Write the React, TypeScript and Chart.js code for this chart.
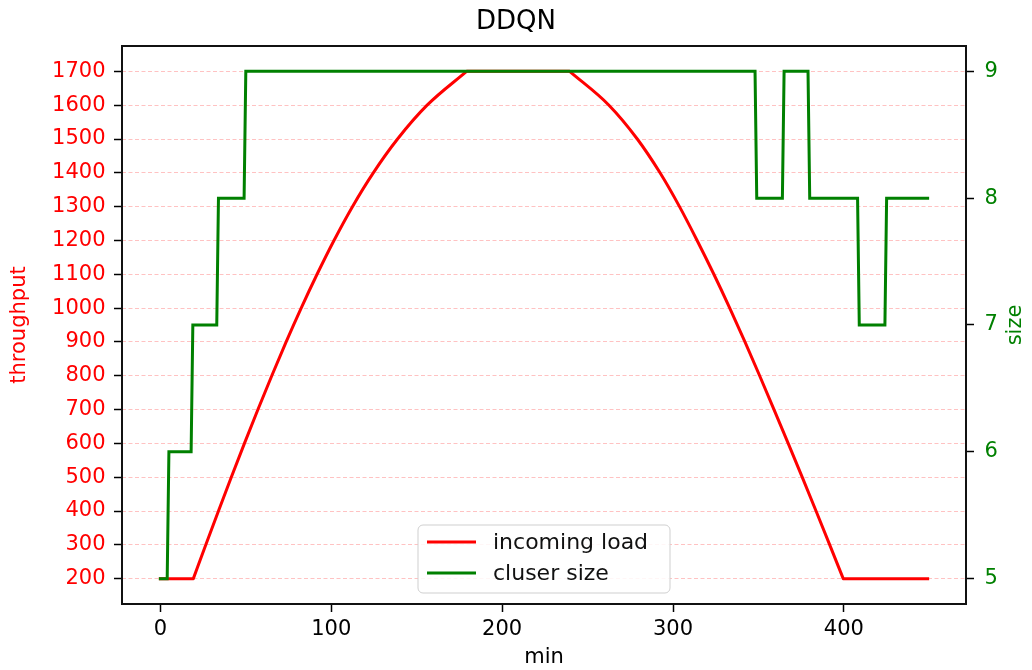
import React, { useEffect, useRef } from 'react';
import { Chart, registerables } from 'chart.js';

Chart.register(...registerables);

const FONT = '"DejaVu Sans", "Liberation Sans", sans-serif';

// incoming load (throughput)
const loadMinutes = [0, 19.3, 26.6, 34.0, 41.5, 49.2, 57.1, 65.2, 73.6, 82.4, 91.7, 101.6, 112.4, 124.6, 138.8, 156.1, 179.2,
  239.5, 262.5, 279.1, 292.4, 303.8, 314.1, 323.9, 333.2, 342.1, 350.7, 359.1, 367.4, 375.6, 383.7, 391.7, 399.6, 449];
const loadValues = [200, 200, 300, 400, 500, 600, 700, 800, 900, 1000, 1100, 1200, 1300, 1400, 1500, 1600, 1700,
  1700, 1600, 1500, 1400, 1300, 1200, 1100, 1000, 900, 800, 700, 600, 500, 400, 300, 200, 200];

// cluster size steps
const sizeMinutes = [0, 4, 5, 18, 19, 33, 34, 49, 50, 348, 349, 364, 365, 379, 380, 408, 409, 424, 425, 449];
const sizeValues = [5, 5, 6, 6, 7, 7, 8, 8, 9, 9, 8, 8, 9, 9, 8, 8, 7, 7, 8, 8];

const xTicks = [0, 100, 200, 300, 400];
const throughputTicks = [200, 300, 400, 500, 600, 700, 800, 900, 1000, 1100, 1200, 1300, 1400, 1500, 1600, 1700];
const sizeTicks = [5, 6, 7, 8, 9];

const seriesLabels = ['incoming load', 'cluser size'];
const seriesColors = ['#ff0000', '#008000'];

const X_MIN = -22.45;
const X_MAX = 471.45;
const Y_MIN = 125;
const Y_MAX = 1775;
const Y1_MIN = 4.8;
const Y1_MAX = 9.2;

// keep the corners where the smooth load curve meets its flat parts sharp
const cornerPlugin = {
  id: 'sharpCorners',
  beforeDatasetDraw(chart: any, args: any) {
    if (args.index !== 0) return;
    const line = args.meta.dataset;
    if (!line) return;
    line.updateControlPoints(chart.chartArea, 'x');
    const pts = line.points;
    for (let i = 1; i < pts.length - 1; i++) {
      const a = pts[i - 1];
      const p = pts[i];
      const b = pts[i + 1];
      const flatBefore = Math.abs(a.y - p.y) < 0.01;
      const flatAfter = Math.abs(b.y - p.y) < 0.01;
      if (flatBefore && !flatAfter) {
        p.cp1x = p.x - (p.x - a.x) / 3;
        p.cp1y = p.y;
        p.cp2x = p.x + (b.x - p.x) / 3;
        p.cp2y = p.y + (b.y - p.y) / 3;
      } else if (!flatBefore && flatAfter) {
        p.cp1x = p.x - (p.x - a.x) / 3;
        p.cp1y = p.y - (p.y - a.y) / 3;
        p.cp2x = p.x + (b.x - p.x) / 3;
        p.cp2y = p.y;
      }
    }
    line._path = undefined;
  },
};

const decorPlugin = {
  id: 'decor',
  afterDraw(chart: any) {
    const { ctx, chartArea: ca } = chart;
    ctx.save();
    // frame (all four spines)
    ctx.strokeStyle = '#111111';
    ctx.lineWidth = 2;
    ctx.setLineDash([]);
    ctx.strokeRect(ca.left, ca.top, ca.right - ca.left, ca.bottom - ca.top);

    // right axis label, reading bottom to top
    ctx.save();
    ctx.fillStyle = seriesColors[1];
    ctx.font = `21px ${FONT}`;
    ctx.textAlign = 'center';
    ctx.textBaseline = 'alphabetic';
    ctx.translate(ca.right + 55, (ca.top + ca.bottom) / 2);
    ctx.rotate(-Math.PI / 2);
    ctx.fillText('size', 0, 0);
    ctx.restore();

    // legend
    const w = 252;
    const h = 68;
    const bx = (ca.left + ca.right) / 2 - w / 2;
    const by = ca.bottom - 11 - h;
    ctx.beginPath();
    if ((ctx as any).roundRect) {
      (ctx as any).roundRect(bx, by, w, h, 5);
    } else {
      ctx.rect(bx, by, w, h);
    }
    ctx.fillStyle = 'rgba(255,255,255,0.85)';
    ctx.fill();
    ctx.strokeStyle = '#cfcfcf';
    ctx.lineWidth = 1;
    ctx.stroke();
    ctx.font = `22px ${FONT}`;
    ctx.textAlign = 'left';
    ctx.textBaseline = 'middle';
    seriesLabels.forEach((label, i) => {
      const y = by + 17 + i * 31;
      ctx.strokeStyle = seriesColors[i];
      ctx.lineWidth = 3;
      ctx.beginPath();
      ctx.moveTo(bx + 9, y);
      ctx.lineTo(bx + 58, y);
      ctx.stroke();
      ctx.fillStyle = '#111111';
      ctx.fillText(label, bx + 75, y + 1);
    });
    ctx.restore();
  },
};

export default function App() {
  const ref = useRef<HTMLCanvasElement>(null);

  useEffect(() => {
    document.body.style.margin = '0';
    const canvas = ref.current;
    if (!canvas) return;
    const tickFont = { family: FONT, size: 21 };
    const chart = new Chart(canvas, {
      type: 'line',
      data: {
        datasets: [
          {
            label: seriesLabels[0],
            data: loadMinutes.map((x, i) => ({ x, y: loadValues[i] })),
            borderColor: seriesColors[0],
            backgroundColor: seriesColors[0],
            borderWidth: 3,
            pointRadius: 0,
            cubicInterpolationMode: 'monotone',
            yAxisID: 'y',
            order: 2,
            borderJoinStyle: 'round',
            borderCapStyle: 'square',
          },
          {
            label: seriesLabels[1],
            data: sizeMinutes.map((x, i) => ({ x, y: sizeValues[i] })),
            borderColor: seriesColors[1],
            backgroundColor: seriesColors[1],
            borderWidth: 3,
            pointRadius: 0,
            tension: 0,
            yAxisID: 'y1',
            order: 1,
            borderJoinStyle: 'miter',
            borderCapStyle: 'square',
          },
        ],
      },
      options: {
        animation: false,
        responsive: false,
        devicePixelRatio: 1,
        layout: { padding: 0 },
        events: [],
        plugins: {
          legend: { display: false },
          tooltip: { enabled: false },
          title: {
            display: true,
            text: 'DDQN',
            color: '#000000',
            font: { family: FONT, size: 26, weight: 'normal' },
            padding: { top: 7, bottom: 7.8 },
          },
        },
        scales: {
          x: {
            type: 'linear',
            min: X_MIN,
            max: X_MAX,
            afterBuildTicks: (s: any) => {
              s.ticks = xTicks.map((v) => ({ value: v }));
            },
            afterFit: (s: any) => {
              s.height = 66;
            },
            ticks: {
              color: '#000000',
              font: tickFont,
              padding: 5,
              autoSkip: false,
              maxRotation: 0,
              callback: (v: any) => String(v),
            },
            grid: {
              drawOnChartArea: false,
              drawTicks: true,
              tickLength: 8,
              tickColor: '#000000',
              tickWidth: 1.5,
              color: '#000000',
            },
            border: { display: false },
            title: {
              display: true,
              text: 'min',
              color: '#000000',
              font: tickFont,
              padding: { top: 0, bottom: 0 },
            },
          },
          y: {
            type: 'linear',
            position: 'left',
            min: Y_MIN,
            max: Y_MAX,
            afterBuildTicks: (s: any) => {
              s.ticks = throughputTicks.map((v) => ({ value: v }));
            },
            afterFit: (s: any) => {
              s.width = 122;
            },
            ticks: {
              color: '#ff0000',
              font: tickFont,
              padding: 8.5,
              autoSkip: false,
              callback: (v: any) => String(v),
            },
            grid: {
              color: 'rgba(255,0,0,0.24)',
              lineWidth: 1,
              drawTicks: true,
              tickLength: 8,
              tickColor: '#000000',
              tickWidth: 1.5,
              tickBorderDash: [],
            },
            border: { display: false, dash: [4, 2.5] },
            title: {
              display: true,
              text: 'throughput',
              color: '#ff0000',
              font: tickFont,
              padding: { top: 7, bottom: 0 },
            },
          },
          y1: {
            type: 'linear',
            position: 'right',
            min: Y1_MIN,
            max: Y1_MAX,
            afterBuildTicks: (s: any) => {
              s.ticks = sizeTicks.map((v) => ({ value: v }));
            },
            afterFit: (s: any) => {
              s.width = 66;
            },
            ticks: {
              color: seriesColors[1],
              font: tickFont,
              padding: 10.5,
              autoSkip: false,
              callback: (v: any) => String(v),
            },
            grid: {
              drawOnChartArea: false,
              drawTicks: true,
              tickLength: 8,
              tickColor: '#000000',
              tickWidth: 1.5,
              color: '#000000',
            },
            border: { display: false },
          },
        },
      } as any,
      plugins: [cornerPlugin, decorPlugin],
    });
    return () => chart.destroy();
  }, []);

  return (
    <canvas
      ref={ref}
      width={1032}
      height={670}
      style={{ display: 'block', position: 'absolute', left: 0, top: 0 }}
    />
  );
}
